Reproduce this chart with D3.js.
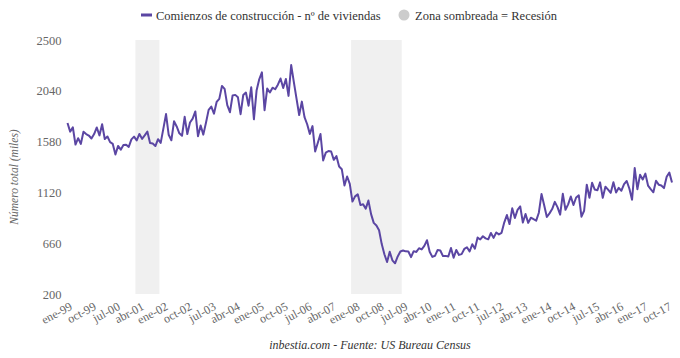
<!DOCTYPE html>
<html><head><meta charset="utf-8">
<script src="https://cdn.jsdelivr.net/npm/d3@7"></script>
<style>body{margin:0;background:#fff}svg{display:block}</style>
</head><body><svg id="c" width="680" height="358"></svg>
<script>
const monthNames = ["ene","feb","mar","abr","may","jun","jul","ago","sep","oct","nov","dic"];
const years = d3.range(1999, 2018);
const values = [
1748,1670,1710,1553,1611,1559,1669,1648,1635,1608,1648,1708,
1636,1737,1604,1626,1575,1559,1463,1541,1507,1549,1551,1532,
1600,1625,1590,1649,1605,1636,1670,1567,1562,1540,1602,1568,
1698,1829,1642,1592,1764,1717,1655,1633,1804,1648,1753,1788,
1853,1629,1726,1643,1751,1867,1897,1833,1939,1967,2083,2057,
1911,1846,1998,2003,1981,1828,2002,2024,1905,2072,1782,2042,
2144,2207,1864,2061,2025,2068,2054,2095,2151,2065,2147,1994,
2273,2119,1969,1821,1942,1802,1737,1650,1720,1491,1570,1649,
1409,1480,1495,1490,1415,1448,1354,1330,1183,1264,1197,1037,
1084,1103,1005,1013,973,1046,923,844,820,777,652,560,
490,582,505,478,540,585,594,586,585,534,588,581,
614,604,636,687,583,536,546,599,594,543,545,539,
617,528,599,554,561,608,623,585,650,611,711,694,
723,704,695,753,708,757,740,754,847,915,833,976,
888,962,993,847,925,844,891,877,864,936,1105,1003,
897,930,969,1034,987,919,1107,963,1012,1083,1006,1074,
1093,900,954,1190,1072,1207,1146,1139,1211,1071,1172,1145,
1116,1212,1119,1161,1135,1195,1223,1153,1054,1340,1149,1279,
1237,1290,1182,1149,1121,1225,1190,1183,1159,1261,1299,1209
];
const categories = [];
years.forEach(yr => monthNames.forEach(m => categories.push(m + "-" + String(yr).slice(2))));
const recessions = [["mar-01","nov-01"],["dic-07","jun-09"]];
const yTicks = [200,660,1120,1580,2040,2500];
const tickStep = 9;
const FONT = '"Liberation Serif"';

const svg = d3.select("#c");
const mLeft = 67.5, mRight = 672, mTop = 40, mBottom = 294;
const x = d3.scalePoint().domain(categories).range([mLeft, mRight]);
const step = x.step();
const y = d3.scaleLinear().domain([200, 2500]).range([mBottom, mTop]);

svg.append("g").selectAll("rect").data(recessions).join("rect")
  .attr("x", d => x(d[0]) - step/2)
  .attr("width", d => x(d[1]) - x(d[0]) + step)
  .attr("y", mTop).attr("height", mBottom - mTop)
  .attr("fill", "#f0f0f0");

const yAxis = svg.append("g").attr("transform", `translate(${mLeft - 6},0)`)
  .call(d3.axisLeft(y).tickValues(yTicks).tickFormat(d3.format("d")).tickSize(0).tickPadding(0));
yAxis.select(".domain").remove();
yAxis.selectAll("text").style("font-family", FONT).attr("font-size", 12.5).attr("fill", "#666");

const xTickVals = categories.filter((d, i) => i % tickStep === 0);
const xAxis = svg.append("g").attr("transform", `translate(0,${mBottom})`)
  .call(d3.axisBottom(x).tickValues(xTickVals).tickSize(0).tickPadding(0));
xAxis.select(".domain").remove();
xAxis.selectAll("text")
  .style("font-family", FONT).attr("font-size", 12).attr("fill", "#666")
  .attr("text-anchor", "end")
  .attr("dy", null).attr("y", 0)
  .attr("transform", "translate(5,15) rotate(-28)");

svg.append("path").datum(values)
  .attr("fill", "none").attr("stroke", "#5b46a3").attr("stroke-width", 2)
  .attr("stroke-linejoin", "round")
  .attr("d", d3.line().x((d, i) => x(categories[i])).y(d => y(d)));

svg.append("text").attr("transform", "translate(18,177) rotate(-90)")
  .attr("text-anchor", "middle").style("font-family", FONT)
  .attr("font-style", "italic").attr("font-size", 11.5).attr("fill", "#666")
  .text("Número total (miles)");

const lg = svg.append("g").attr("fill", "#333");
lg.append("rect").attr("x", 141).attr("y", 13.5).attr("width", 11).attr("height", 3).attr("fill", "#5b46a3");
lg.append("text").attr("x", 156).attr("y", 19.5).style("font-family", FONT).attr("font-size", 12.5).text("Comienzos de construcción - nº de viviendas");
lg.append("circle").attr("cx", 404).attr("cy", 15).attr("r", 5.5).attr("fill", "#cccccc");
lg.append("text").attr("x", 415).attr("y", 19.5).style("font-family", FONT).attr("font-size", 12.5).text("Zona sombreada = Recesión");

svg.append("text").attr("x", 370).attr("y", 349).attr("text-anchor", "middle")
  .style("font-family", FONT).attr("font-style", "italic")
  .attr("font-size", 12).attr("fill", "#333")
  .text("inbestia.com - Fuente: US Bureau Census");
</script></body></html>
